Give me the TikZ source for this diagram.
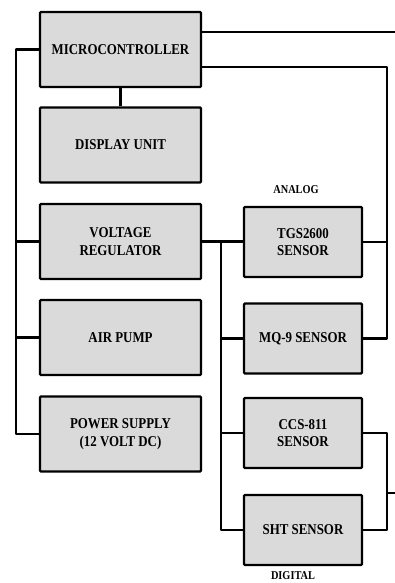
\documentclass[tikz,border=0pt]{standalone}
\usepackage{fontspec}
\setmainfont{Liberation Serif}[FakeStretch=0.86]
\usetikzlibrary{calc}
\definecolor{boxgray}{RGB}{218,218,218}
\begin{document}
\begin{tikzpicture}[x=1pt,y=-1pt,
 blk/.style={draw=black, line width=2.4pt, fill=boxgray, rounded corners=1pt, align=center, font=\fontsize{15}{17.5}\selectfont\bfseries, inner sep=0pt},
 big/.style={blk, minimum width=161pt, minimum height=75pt},
 sml/.style={blk, minimum width=118pt, minimum height=70pt},
 wire/.style={line width=2.4pt, line join=round},
 lbl/.style={font=\fontsize{12}{14}\selectfont\bfseries}]
\useasboundingbox (0,0) rectangle (395,583);
\node[big] (mc) at (120.5,49.5) {MICROCONTROLLER};
\node[big] (du) at (120.5,145) {DISPLAY UNIT};
\node[big] (vr) at (120.5,241.5) {VOLTAGE\\REGULATOR};
\node[big] (ap) at (120.5,337.5) {AIR PUMP};
\node[big] (ps) at (120.5,434) {POWER SUPPLY\\(12 VOLT DC)};
\node[sml] (tgs) at (303,242) {TGS2600\\SENSOR};
\node[sml] (mq) at (303,338.5) {MQ-9 SENSOR};
\node[sml] (ccs) at (303,433) {CCS-811\\SENSOR};
\node[sml] (sht) at (303,530) {SHT SENSOR};
\node[lbl] (an) at (296,190) {ANALOG};
\node[lbl] (dg) at (293,576) {DIGITAL};
\coordinate (L) at (16,0);
\coordinate (bv) at (221,0);
\coordinate (outA) at (395,32);
\coordinate (mcb) at (387,67);
\coordinate (outD) at (395,493);
% left bus
\draw[wire] (du.north) -- (mc.south);
\draw[wire] (mc.west) -- (mc.west -| L) |- (ps.west);
\draw[wire] (vr.west -| L) -- (vr.west);
\draw[wire] (ap.west -| L) -- (ap.west);
% microcontroller outputs
\draw[wire] (mc.east |- outA) -- (outA);
\draw[wire] (mc.east |- mcb) -- (mcb) |- (mq.east);
\draw[wire] (tgs.east) -- (tgs.east -| mcb);
% sensor supply bus
\draw[wire] (vr.east) -- (vr.east -| tgs.west);
\draw[wire] (bv |- vr.east) |- (sht.west);
\draw[wire] (bv |- mq.west) -- (mq.west);
\draw[wire] (bv |- ccs.west) -- (ccs.west);
% digital bus
\draw[wire] (ccs.east) -- (ccs.east -| mcb) |- (sht.east);
\draw[wire] (outD -| mcb) -- (outD);
\end{tikzpicture}
\end{document}
